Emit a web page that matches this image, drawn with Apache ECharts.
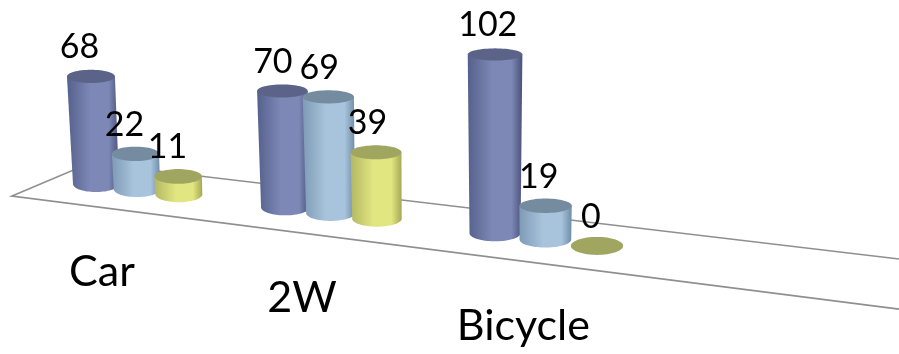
<!DOCTYPE html>
<html>
<head>
<meta charset="utf-8">
<style>html,body{margin:0;padding:0;background:#fff}#chart{width:899px;height:354px}</style>
<script src="https://cdn.jsdelivr.net/npm/echarts@6/dist/echarts.min.js"></script>
</head>
<body>
<div id="chart"></div>
<script>
// Vehicle usage counts by category, drawn as tilted 3D cylinders on a receding floor.
const categories = ['Car', '2W', 'Bicycle'];
const seriesOne = [68, 70, 102];
const seriesTwo = [22, 69, 19];
const seriesThree = [11, 39, 0];

const palettes = [
  { edgeL: '#56608c', mid: '#7d88b6', edgeR: '#49527a', top: '#5b6488' },
  { edgeL: '#7f9ab5', mid: '#a8c4dc', edgeR: '#6f8ca8', top: '#758ba0' },
  { edgeL: '#b3b764', mid: '#e2e680', edgeR: '#a4a855', top: '#a0a560' }
];

// Perspective of the floor plane: x recedes toward the viewer, height grows with it.
const DEPTH = 0.0489;
const FLOOR_SLOPE = 0.1235;
const SERIES_STEP = 0.225;
const LEAN_PIVOT = 494;
const LEAN = 0.000118;
const FONT = 'Lato, "Open Sans", sans-serif';

function warp(api, u, v) {
  const p0 = api.coord([0, 0]);
  const p = api.coord([u, v]);
  const w = 1 / (1 - DEPTH * u);
  const x = p0[0] + (p[0] - p0[0]) * w;
  const y = p0[1] + (x - p0[0]) * FLOOR_SLOPE;
  return { x, y, w, h: (p0[1] - p[1]) * w };
}

function ellipsePts(cx, cy, rx, ry, from, to, n) {
  const pts = [];
  for (let i = 0; i <= n; i++) {
    const t = from + (to - from) * i / n;
    pts.push([cx + rx * Math.cos(t), cy + ry * Math.sin(t)]);
  }
  return pts;
}

function cylinder(pal) {
  return function (params, api) {
    const u = api.value(0);
    const val = api.value(1);
    const b = warp(api, u, val);
    const rx = 23 * b.w;
    const topRx = rx * (1 + b.h * 0.0004);
    const botRy = 8;
    // An empty column is only its footprint, seen at the floor's full tilt.
    const topRy = val > 0 ? 7.5 - b.h * 0.008 : botRy + 1;
    const topX = b.x + (b.x - LEAN_PIVOT) * LEAN * b.h;
    const topY = b.y - b.h;
    const children = [];
    if (val > 0) {
      const side = [[topX - topRx, topY]]
        .concat(ellipsePts(b.x, b.y, rx, botRy, Math.PI, 0, 40))
        .concat([[topX + topRx, topY]]);
      children.push({
        type: 'polygon',
        shape: { points: side },
        style: {
          fill: {
            type: 'linear', x: 0, y: 0, x2: 1, y2: 0,
            colorStops: [
              { offset: 0, color: pal.edgeL },
              { offset: 0.45, color: pal.mid },
              { offset: 0.8, color: pal.mid },
              { offset: 1, color: pal.edgeR }
            ]
          }
        }
      });
    }
    children.push({
      type: 'polygon',
      shape: { points: ellipsePts(topX, topY, topRx, topRy, 0, Math.PI * 2, 64) },
      style: { fill: pal.top }
    });
    children.push({
      type: 'text',
      z2: 100,
      style: {
        text: String(val),
        x: topX - 11.5 + (b.x - 96) * 0.0105,
        y: topY - 29,
        align: 'center',
        verticalAlign: 'middle',
        font: '34px ' + FONT,
        fill: '#000'
      }
    });
    return { type: 'group', children };
  };
}

function floorPlane(params, api) {
  const rightEdge = 899;
  const frontL = [12, 196];
  const backL = [90, 163];
  const back = [rightEdge, backL[1] + (rightEdge - backL[0]) * 0.1187];
  const front = [rightEdge, frontL[1] + (rightEdge - frontL[0]) * 0.1275];
  return {
    type: 'polyline',
    shape: { points: [back, backL, frontL, front] },
    style: { stroke: '#8f8f8f', lineWidth: 1.7, fill: null }
  };
}

function categoryLabel(params, api) {
  const c = api.value(0);
  const g = warp(api, c + SERIES_STEP, 0);
  return {
    type: 'text',
    z2: 100,
    style: {
      text: categories[c],
      x: g.x - 35 + 6.5 * c,
      y: g.y + 83 + 2 * c,
      align: 'center',
      verticalAlign: 'middle',
      font: '43px ' + FONT,
      fill: '#000'
    }
  };
}

const valueSets = [seriesOne, seriesTwo, seriesThree];
const chart = echarts.init(document.getElementById('chart'), null, { renderer: 'canvas' });
chart.setOption({
  animation: false,
  backgroundColor: '#fff',
  grid: { left: 96, top: 10, width: 540, height: 174 },
  xAxis: { type: 'value', min: 0, max: 3, show: false },
  yAxis: { type: 'value', min: 0, max: 110, show: false },
  series: [
    { type: 'custom', renderItem: floorPlane, data: [[0, 0]], clip: false, silent: true, z: 1 }
  ].concat(valueSets.map((vals, s) => ({
    type: 'custom',
    name: 'Series ' + (s + 1),
    clip: false,
    z: 2,
    encode: { x: 0, y: 1 },
    renderItem: cylinder(palettes[s]),
    data: vals.map((v, c) => [c + s * SERIES_STEP, v])
  }))).concat([
    { type: 'custom', renderItem: categoryLabel, data: categories.map((_, c) => [c, 0]), clip: false, silent: true, z: 3 }
  ])
});
</script>
</body>
</html>
